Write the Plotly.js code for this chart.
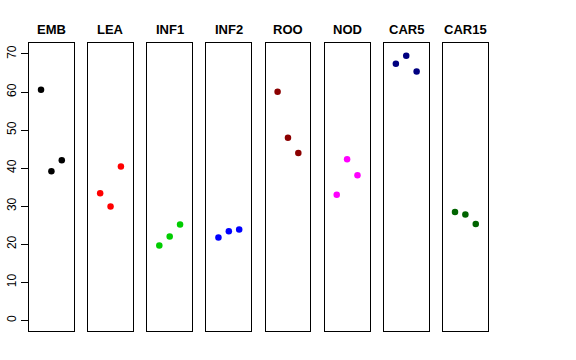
<!DOCTYPE html>
<html>
<head>
<meta charset="utf-8">
<script src="https://cdn.plot.ly/plotly-3.0.1.min.js"></script>
<style>html,body{margin:0;padding:0;background:#fff;}#chart{width:576px;height:360px;}</style>
</head>
<body>
<div id="chart"></div>
<script>
var groups = ["EMB", "LEA", "INF1", "INF2", "ROO", "NOD", "CAR5", "CAR15"];
var replicate = [1, 2, 3];
var EMB = [60.6, 39.2, 42.1];
var LEA = [33.4, 29.9, 40.4];
var INF1 = [19.7, 22.0, 25.2];
var INF2 = [21.8, 23.4, 23.9];
var ROO = [60.1, 48.0, 44.0];
var NOD = [33.0, 42.3, 38.1];
var CAR5 = [67.4, 69.5, 65.4];
var CAR15 = [28.5, 27.8, 25.3];
var values = [EMB, LEA, INF1, INF2, ROO, NOD, CAR5, CAR15];
var colors = ["#000000", "#FF0000", "#00CD00", "#0000FF", "#8B0000", "#FF00FF", "#000080", "#006400"];
var yTicks = [0, 10, 20, 30, 40, 50, 60, 70];

var W = 576, H = 360;
var panelLeft = 29, panelStep = 59.14, panelW = 44.8;
var yDom = [(H - 331) / H, (H - 43.3) / H];

var traces = [];
var layout = {
  width: W, height: H,
  margin: {l: 0, r: 0, t: 0, b: 0},
  paper_bgcolor: "#fff", plot_bgcolor: "#fff",
  showlegend: false,
  font: {family: "Liberation Sans, Arial, sans-serif", size: 12, color: "#000"},
  annotations: []
};

groups.forEach(function (g, i) {
  var n = i + 1;
  var xa = "xaxis" + (n === 1 ? "" : n), ya = "yaxis" + (n === 1 ? "" : n);
  var l = panelLeft + panelStep * i;
  traces.push({
    type: "scatter", mode: "markers",
    x: replicate, y: values[i],
    xaxis: "x" + (n === 1 ? "" : n), yaxis: "y" + (n === 1 ? "" : n),
    marker: {color: colors[i], size: 6.5},
    hoverinfo: "none"
  });
  layout[xa] = {
    domain: [l / W, (l + panelW) / W],
    range: [-0.16, 4.16],
    showgrid: false, zeroline: false, showticklabels: false, ticks: "",
    showline: true, mirror: true, linecolor: "#000", linewidth: 1,
    anchor: "y" + (n === 1 ? "" : n), fixedrange: true
  };
  layout[ya] = {
    domain: yDom,
    range: [-2.8, 72.8],
    showgrid: false, zeroline: false,
    showline: true, mirror: true, linecolor: "#000", linewidth: 1,
    anchor: "x" + (n === 1 ? "" : n), fixedrange: true,
    showticklabels: n === 1,
    ticks: n === 1 ? "outside" : "",
    tickvals: yTicks, ticktext: yTicks.map(String),
    ticklen: 7, tickcolor: "#000", tickwidth: 1,
    tickangle: -90,
    tickfont: {size: 12, color: "#000"}
  };
  layout.annotations.push({
    text: "<b>" + g + "</b>",
    xref: "paper", yref: "paper",
    x: (l + panelW / 2) / W, y: (H - 29.5) / H,
    xanchor: "center", yanchor: "middle",
    showarrow: false,
    font: {size: 13, color: "#000", family: "Liberation Sans, Arial, sans-serif"}
  });
});

Plotly.newPlot("chart", traces, layout, {staticPlot: true, displayModeBar: false});
</script>
</body>
</html>
